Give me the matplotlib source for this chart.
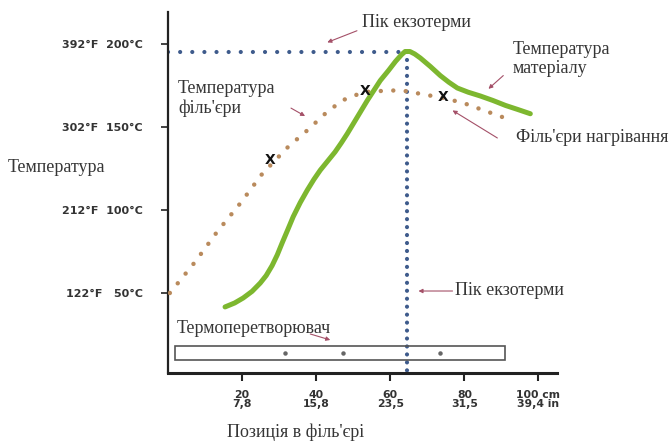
import matplotlib
matplotlib.use("Agg")
import matplotlib.pyplot as plt
from matplotlib.patches import Rectangle

# ---- data (position in cm, temperature in °C) ----
material_x = [15.4, 18.0, 20.3, 22.7, 24.9, 26.5, 28.1, 29.5, 30.8, 32.3, 33.8, 35.7,
              37.6, 39.4, 41.1, 43.1, 45.1, 46.8, 48.4, 51.1, 53.8, 57.3, 59.5,
              61.4, 63.0, 64.0, 65.3, 66.6, 68.1, 70.8, 73.5, 75.8, 78.1, 81.0,
              84.3, 87.7, 91.1, 94.5, 97.8]
material_y = [41.6, 44.0, 47.0, 51.0, 56.0, 60.5, 66.5, 73.0, 80.1, 88.0, 96.0, 104.5,
              112.0, 118.5, 124.0, 129.5, 135.0, 140.5, 146.0, 156.0, 166.0, 178.0, 184.0,
              189.5, 193.5, 195.5, 195.5, 194.0, 191.6, 186.5, 181.0, 177.0, 173.5, 171.0,
              168.7, 166.0, 163.0, 160.5, 158.0]

filter_x = [0.5, 7.3, 13.2, 19.5, 25.4, 32.4, 37.6, 42.4, 47, 52.7, 59.5, 63.2,
            74.3, 79.7, 91]
filter_y = [50, 68.7, 86.7, 104, 121.7, 138, 148, 158, 166, 171, 172, 172,
            167.5, 164.5, 155.4]

cross_x = [27.6, 53.2, 74.3]
cross_y = [130, 172, 168]

peak_x = 64.6
peak_y = 195

tc_x = [31.6, 47.3, 73.5]
tc_y = [13.9, 13.9, 13.9]
bar_x0, bar_x1 = 1.9, 91
bar_y0, bar_y1 = 9.6, 18

xticks = [20, 40, 60, 80, 100]
xticklabels = ["20\n7,8", "40\n15,8", "60\n23,5", "80\n31,5", "100 cm\n39,4 in"]
yticks = [50, 100, 150, 200]
yticklabels = ["122°F   50°C", "212°F  100°C", "302°F  150°C", "392°F  200°C"]

# ---- styles ----
GREEN = "#7db72f"
ORANGE = "#b98a5c"
BLUE = "#3e5b8c"
ARROW = "#a45068"
TXT = "#363636"
SERIF = ["Liberation Serif", "DejaVu Serif"]
FS = 13

fig = plt.figure(figsize=(6.71, 4.43), dpi=100)
ax = fig.add_axes([168/671, 70/443, (557-168)/671, (373-12)/443])
ax.set_xlim(0, 105)
ax.set_ylim(1.8, 219.3)

for s in ["top", "right"]:
    ax.spines[s].set_visible(False)
ax.spines["left"].set_linewidth(1.6)
ax.spines["bottom"].set_linewidth(2.2)
ax.spines["left"].set_color("#222222")
ax.spines["bottom"].set_color("#222222")

ax.set_xticks(xticks)
ax.set_xticklabels(xticklabels, fontsize=7.8, fontweight="bold",
                   family="DejaVu Sans", color="#333333", linespacing=0.95)
ax.set_yticks(yticks)
ax.set_yticklabels(yticklabels, fontsize=8, fontweight="bold",
                   family="DejaVu Sans", color="#333333")
ax.tick_params(axis="x", length=6, width=1.5, pad=6, color="#222222")
ax.tick_params(axis="y", length=5, width=1.2, pad=13, color="#222222")

# peak guide lines
ax.plot([0, peak_x], [peak_y, peak_y], color=BLUE, lw=3.0,
        linestyle=(0, (0.01, 2.9)), dash_capstyle="round", zorder=2)
ax.plot([peak_x, peak_x], [peak_y, 1.8], color=BLUE, lw=3.0,
        linestyle=(0, (0.01, 1.9)), dash_capstyle="round", zorder=2, clip_on=False)

# filter temperature (dotted)
ax.plot(filter_x, filter_y, color=ORANGE, lw=3.2,
        linestyle=(0, (0.01, 2.8)), dash_capstyle="round", zorder=3)
# material temperature
ax.plot(material_x, material_y, color=GREEN, lw=3.6, solid_capstyle="round",
        solid_joinstyle="round", zorder=4)

# crosses
for cx, cy in zip(cross_x, cross_y):
    ax.text(cx, cy, "X", fontsize=10, fontweight="bold", family="DejaVu Sans",
            ha="center", va="center", color="#111111", zorder=5)

# thermocouple bar
ax.add_patch(Rectangle((bar_x0, bar_y0), bar_x1 - bar_x0, bar_y1 - bar_y0,
                       fill=False, edgecolor="#555555", lw=1.2, zorder=3))
ax.plot(tc_x, tc_y, "o", ms=2.2, color="#666666", zorder=3)

ap = dict(arrowstyle="-|>", color=ARROW, lw=0.8, mutation_scale=6,
          shrinkA=0, shrinkB=0)

ax.annotate("", xy=(43, 201), xytext=(51, 208), arrowprops=ap, annotation_clip=False)
ax.text(52.4, 213, "Пік екзотерми", family=SERIF, fontsize=FS, color=TXT,
        ha="left", va="center", clip_on=False)

ax.annotate("", xy=(86.5, 173), xytext=(90.5, 181), arrowprops=ap, annotation_clip=False)
ax.text(93, 191, "Температура\nматеріалу", family=SERIF, fontsize=FS, color=TXT,
        ha="left", va="center", linespacing=1.2, clip_on=False)

ax.annotate("", xy=(37, 156.6), xytext=(33.2, 161.4), arrowprops=ap)
ax.text(2.7, 167, "Температура\nфіль'єри", family=SERIF, fontsize=FS, color=TXT,
        ha="left", va="center", linespacing=1.2)

ax.annotate("", xy=(76.8, 160), xytext=(88.9, 143.4), arrowprops=ap, annotation_clip=False)
ax.text(93.8, 143.4, "Філь'єри нагрівання", family=SERIF, fontsize=FS, color=TXT,
        ha="left", va="center", clip_on=False)

ax.annotate("", xy=(43.8, 21.7), xytext=(38.4, 25.3), arrowprops=ap)
ax.text(2.4, 28.9, "Термоперетворювач", family=SERIF, fontsize=FS, color=TXT,
        ha="left", va="center")

ax.annotate("", xy=(67.6, 51.2), xytext=(76.8, 51.2), arrowprops=ap)
ax.text(77.6, 51.8, "Пік екзотерми", family=SERIF, fontsize=FS, color=TXT,
        ha="left", va="center", clip_on=False)

fig.text(8/671, (443-167)/443, "Температура", family=SERIF, fontsize=FS,
         color=TXT, ha="left", va="center")
fig.text(296/671, (443-432)/443, "Позиція в філь'єрі", family=SERIF, fontsize=FS,
         color=TXT, ha="center", va="center")

fig.savefig("out.png", dpi=100, facecolor="white")
